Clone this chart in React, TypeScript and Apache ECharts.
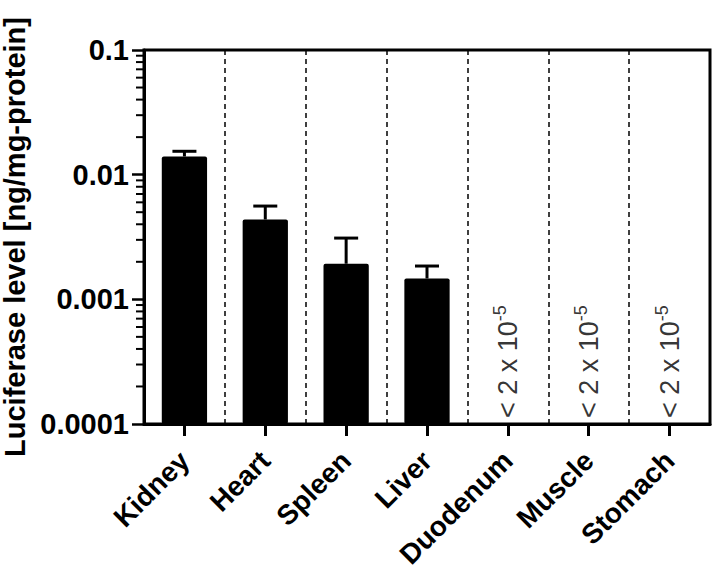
import React, { useEffect, useRef } from "react";
import * as echarts from "echarts";

const categories = ["Kidney", "Heart", "Spleen", "Liver", "Duodenum", "Muscle", "Stomach"];
const meanValues = [0.014, 0.00437, 0.00193, 0.00147, null, null, null];
const errorTop = [0.0154, 0.0056, 0.0031, 0.00185, null, null, null];
const belowLimitCats = ["Duodenum", "Muscle", "Stomach"];
const belowLimitText = ["< 2 x 10", "-5"];
const yTickValues = [0.0001, 0.001, 0.01, 0.1];
const yTickLabels = ["0.0001", "0.001", "0.01", "0.1"];
const minorMultipliers = [2, 3, 4, 5, 6, 7, 8, 9];

const FONT = "'Liberation Sans', Arial, sans-serif";

export default function App() {
  const ref = useRef<HTMLDivElement>(null);
  useEffect(() => {
    if (!ref.current) return;
    const chart = echarts.init(ref.current, null, { renderer: "svg" });

    const minorTicks: number[][] = [];
    yTickValues.slice(0, -1).forEach((d) => {
      minorMultipliers.forEach((m) => minorTicks.push([0, d * m]));
    });

    const errData = categories
      .map((c, i) => (meanValues[i] != null ? [i, meanValues[i], errorTop[i]] : null))
      .filter((d) => d) as number[][];

    const option: any = {
      animation: false,
      grid: {
        left: 144,
        right: 9,
        top: 50,
        bottom: 151,
        show: true,
        borderColor: "#000",
        borderWidth: 3,
        outerBoundsMode: "none",
        containLabel: false,
      },
      xAxis: {
        type: "category",
        data: categories,
        axisLine: { lineStyle: { color: "#000", width: 3 } },
        axisTick: { show: true, alignWithLabel: true, length: 12, lineStyle: { color: "#000", width: 3 } },
        axisLabel: {
          interval: 0,
          rotate: 45,
          margin: 32,
          color: "#000",
          fontFamily: FONT,
          fontWeight: "bold",
          fontSize: 28,
        },
        splitLine: {
          show: true,
          interval: 0,
          lineStyle: { color: "#000", width: 1.5, type: [5, 4] },
        },
      },
      yAxis: {
        type: "log",
        logBase: 10,
        min: yTickValues[0],
        max: yTickValues[yTickValues.length - 1],
        startValue: yTickValues[0],
        name: "Luciferase level [ng/mg-protein]",
        nameLocation: "middle",
        nameGap: 103,
        nameTextStyle: { color: "#000", fontFamily: FONT, fontWeight: "bold", fontSize: 29 },
        axisLine: { show: true, lineStyle: { color: "#000", width: 3 } },
        axisTick: { show: true, length: 12, lineStyle: { color: "#000", width: 2.5 } },
        axisLabel: {
          color: "#000",
          fontFamily: FONT,
          fontWeight: "bold",
          fontSize: 29,
          margin: 15,
          formatter: (v: number) => {
            const idx = yTickValues.findIndex((t) => Math.abs(Math.log10(t) - Math.log10(v)) < 1e-6);
            return idx >= 0 ? yTickLabels[idx] : "";
          },
        },
        splitLine: { show: false },
      },
      series: [
        {
          type: "bar",
          data: meanValues.map((v) => (v == null ? "-" : v)),
          barWidth: "56%",
          itemStyle: { color: "#000", borderRadius: 2 },
          z: 2,
        },
        {
          type: "custom",
          data: errData,
          encode: { x: 0, y: [1, 2] },
          z: 3,
          renderItem: (params: any, api: any) => {
            const x = api.value(0);
            const p0 = api.coord([x, api.value(1)]);
            const p1 = api.coord([x, api.value(2)]);
            const hw = 12;
            return {
              type: "group",
              children: [
                {
                  type: "line",
                  shape: { x1: p0[0], y1: p0[1], x2: p1[0], y2: p1[1] },
                  style: { stroke: "#000", lineWidth: 3 },
                },
                {
                  type: "line",
                  shape: { x1: p1[0] - hw, y1: p1[1], x2: p1[0] + hw, y2: p1[1] },
                  style: { stroke: "#000", lineWidth: 3 },
                },
              ],
            };
          },
        },
        {
          type: "custom",
          data: minorTicks,
          encode: { x: 0, y: 1 },
          z: 5,
          clip: false,
          silent: true,
          renderItem: (params: any, api: any) => {
            const p = api.coord([api.value(0), api.value(1)]);
            const band = api.size([1, 0])[0];
            const x0 = p[0] - band / 2;
            return {
              type: "line",
              shape: { x1: x0 - 8, y1: p[1], x2: x0, y2: p[1] },
              style: { stroke: "#000", lineWidth: 2 },
            };
          },
        },
        {
          type: "scatter",
          data: belowLimitCats.map((c) => [c, yTickValues[0]]),
          symbolSize: 0,
          z: 4,
          label: {
            show: true,
            position: "top",
            distance: 6,
            rotate: 90,
            align: "left",
            verticalAlign: "middle",
            formatter: () => `{a|${belowLimitText[0]}}{b|${belowLimitText[1]}}`,
            rich: {
              a: { fontFamily: FONT, fontSize: 27, color: "#000", lineHeight: 34 },
              b: { fontFamily: FONT, fontSize: 18, color: "#000", verticalAlign: "top", lineHeight: 34, padding: [0, 0, 14, 0] },
            },
          },
        },
      ],
    };
    chart.setOption(option);
    return () => chart.dispose();
  }, []);
  return (
    <div
      ref={ref}
      style={{ position: "fixed", left: 0, top: 0, width: 719, height: 575, background: "#fff" }}
    />
  );
}
